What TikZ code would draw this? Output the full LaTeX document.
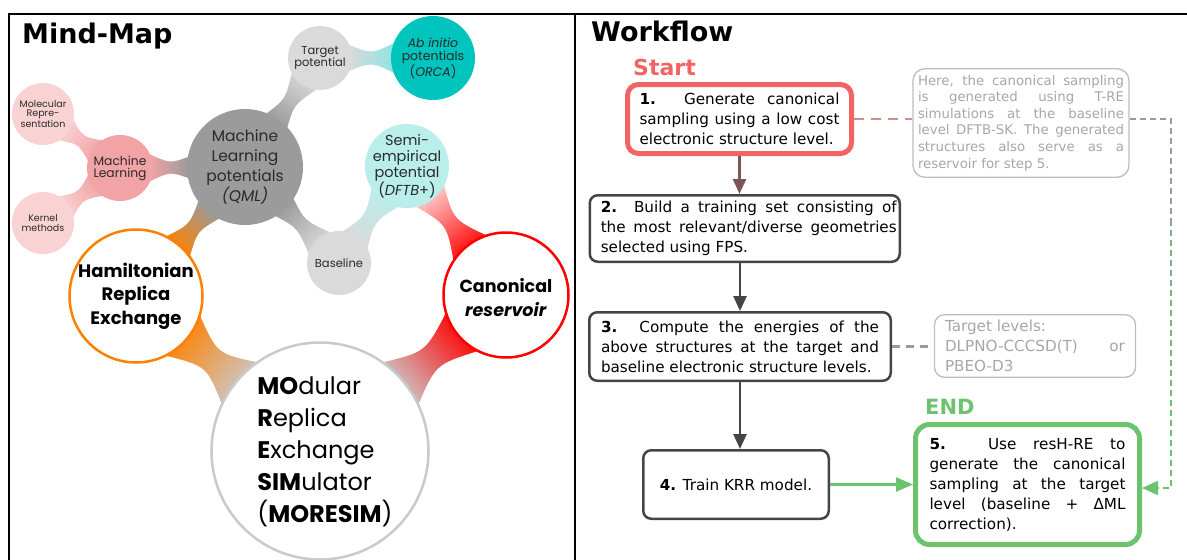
\documentclass[tikz,border=0pt]{standalone}
\usepackage{fontspec}
\setmainfont{DejaVu Sans}
\newfontfamily\mmfont{Poppins}
\usetikzlibrary{calc,arrows.meta,backgrounds}

\definecolor{cTgt}{HTML}{DADADA}
\definecolor{cAbi}{HTML}{00C4BE}
\definecolor{cMol}{HTML}{F9D3D3}
\definecolor{cML}{HTML}{F2A3A6}
\definecolor{cMLP}{HTML}{9B9B9B}
\definecolor{cSemi}{HTML}{B9EEEA}
\definecolor{cHam}{HTML}{FF8000}
\definecolor{cCan}{HTML}{FF0000}
\definecolor{cMor}{HTML}{CACACA}
\definecolor{cMMtext}{HTML}{2A2A2A}
\definecolor{cStart}{HTML}{F26464}
\definecolor{cArrA}{HTML}{7D5555}
\definecolor{cDark}{HTML}{454545}
\definecolor{cGreen}{HTML}{6DC26F}
\definecolor{cNoteText}{HTML}{A6A6A6}
\definecolor{cNoteBorder}{HTML}{BDBDBD}
\definecolor{cRedDash}{HTML}{D88A88}
\definecolor{cGrayDash}{HTML}{9A9A9A}

\newcommand\wfont{\fontsize{15.2}{20}\selectfont}
\newcommand\nfont{\fontsize{13.3}{16.6}\selectfont}
\newcommand\jpar[2]{\vbox{\hsize=#1\relax #2}}
\newcommand\jl[1]{\hbox to\hsize{#1}}
\newcommand\jlast[1]{\hbox to\hsize{#1\hfil}}

\newdimen\mmxa \newdimen\mmya \newdimen\mmxb \newdimen\mmyb
% #1 A, #2 B, #3 rA, #4 rB, #5 deltaA, #6 deltaB, #7 neck half width, #8 colA, #9 colB
\newcommand\mmlink[9]{%
  \pgfextractx{\mmxa}{\pgfpointanchor{#1}{center}}%
  \pgfextracty{\mmya}{\pgfpointanchor{#1}{center}}%
  \pgfextractx{\mmxb}{\pgfpointanchor{#2}{center}}%
  \pgfextracty{\mmyb}{\pgfpointanchor{#2}{center}}%
  \pgfmathsetmacro\mmang{atan2(\the\mmyb-\the\mmya,\the\mmxb-\the\mmxa)-90}%
  \coordinate (mmP) at ($(#1)!#3!(#2)$);
  \coordinate (mmQ) at ($(#2)!#4!(#1)$);
  \coordinate (mmM) at ($(mmP)!0.5!(mmQ)$);
  \shade[top color=#9, bottom color=#8, shading angle=\mmang]
    ($(#1)!#3!#5:(#2)$) .. controls ($(mmM)!#7!90:(#2)$) .. ($(#2)!#4!-#6:(#1)$)
    -- ($(#2)!#4!#6:(#1)$) .. controls ($(mmM)!#7!-90:(#2)$) .. ($(#1)!#3!-#5:(#2)$)
    -- cycle;
}

\begin{document}
\begin{tikzpicture}[x=1pt,y=-1pt,
  mmc/.style={circle,inner sep=0pt,minimum size=#1},
  mmring/.style={circle,inner sep=0pt,minimum size=#1,fill=white,line width=2.5pt},
  mmt/.style={align=center,inner sep=0pt,text=cMMtext},
  title/.style={anchor=base west,inner sep=0pt,font=\fontsize{27}{30}\selectfont\bfseries},
  wbox/.style={draw=cDark,line width=2.5pt,rounded corners=8pt,inner sep=0pt,font=\wfont},
  nbox/.style={draw=cNoteBorder,line width=1.3pt,rounded corners=12pt,inner sep=0pt,text=cNoteText},
  darrow/.style={line width=2.5pt,-{Triangle[length=15pt,width=13pt]}},
  garrow/.style={line width=2.5pt,draw=cGreen,-{Triangle[length=17pt,width=14pt]}},
]
\useasboundingbox (0,0) rectangle (1187,560);

% ---------- frame ----------
\draw[line width=2.5pt] (9,560) -- (9,14) -- (1187,14);
\draw[line width=2.5pt] (575,14) -- (575,560);

\node[title] (mmtitle) at (22,43) {Mind-Map};
\node[title] (wftitle) at (591,41) {Workflow};

% ---------- mind map circles ----------
\node[mmc=64pt,fill=cTgt] (tgt) at (320,58) {};
\node[mmc=84pt,fill=cAbi] (abi) at (433,58) {};
\node[mmc=62pt,fill=cMol] (mol) at (43,114) {};
\node[mmc=66pt,fill=cML] (ml) at (120,168) {};
\node[mmc=62pt,fill=cMol] (ker) at (43,223) {};
\node[mmc=116pt,fill=cMLP] (mlp) at (245,167) {};
\node[mmc=84pt,fill=cSemi] (semi) at (407,166) {};
\node[mmc=64pt,fill=cTgt] (base) at (339,263) {};
\node[mmring=133pt,draw=cHam] (ham) at (136,296) {};
\node[mmring=125pt,draw=cCan] (can) at (506,295) {};
\node[mmring=217pt,draw=cMor] (mor) at (320,451) {};

\begin{pgfonlayer}{background}
\mmlink{tgt}{abi}{31pt}{41pt}{26}{22}{4pt}{cTgt}{cAbi!45!white}
\mmlink{mlp}{tgt}{57pt}{31pt}{13}{30}{5pt}{cMLP}{cTgt}
\mmlink{mlp}{ml}{57pt}{32pt}{11}{26}{4pt}{cMLP}{cML}
\mmlink{ml}{mol}{32pt}{30pt}{24}{26}{4pt}{cML}{cMol}
\mmlink{ml}{ker}{32pt}{30pt}{24}{26}{4pt}{cML}{cMol}
\mmlink{mlp}{base}{57pt}{31pt}{13}{30}{5pt}{cMLP}{cTgt}
\mmlink{base}{semi}{31pt}{41pt}{30}{24}{5pt}{cTgt}{cSemi}
\mmlink{semi}{can}{41pt}{62pt}{26}{20}{4pt}{cCan!20!white}{cCan}
\mmlink{mlp}{ham}{57pt}{66pt}{14}{14}{5pt}{cMLP}{cHam}
\mmlink{ham}{mor}{66pt}{108pt}{24}{15}{8pt}{cHam}{cMor}
\mmlink{can}{mor}{62pt}{108pt}{24}{15}{8pt}{cCan}{cMor}
\end{pgfonlayer}

% ---------- mind map texts ----------
\node[mmt,font=\mmfont\fontsize{11.5}{11.5}\selectfont] (tgtT) at (tgt) {Target\\potential};
\node[mmt,font=\mmfont\fontsize{12.5}{13}\selectfont] (abiT) at (abi) {\textit{Ab initio}\\potentials\\(\textit{ORCA})};
\node[mmt,font=\mmfont\fontsize{9.5}{9.2}\selectfont] (molT) at (mol) {Molecular\\Repre-\\sentation};
\node[mmt,font=\mmfont\fontsize{12.3}{12}\selectfont] (mlT) at (ml) {Machine\\Learning};
\node[mmt,font=\mmfont\fontsize{9.5}{9.5}\selectfont] (kerT) at (ker) {Kernel\\methods};
\node[mmt,font=\mmfont\fontsize{15.5}{20}\selectfont] (mlpT) at (mlp) {Machine\\Learning\\potentials\\\textit{(QML)}};
\node[mmt,font=\mmfont\fontsize{14.5}{16}\selectfont] (semiT) at (semi) {Semi-\\empirical\\potential\\(\textit{DFTB}+)};
\node[mmt,font=\mmfont\fontsize{11.5}{11.5}\selectfont] (baseT) at (base) {Baseline};
\node[mmt,font=\mmfont\bfseries\fontsize{18}{23.5}\selectfont,text=black] (hamT) at (ham) {Hamiltonian\\Replica\\Exchange};
\node[mmt,font=\mmfont\bfseries\fontsize{17.5}{24}\selectfont,text=black] (canT) at (506,298) {Canonical\\\textit{reservoir}};
\node[mmt,align=left,font=\mmfont\fontsize{24}{32}\selectfont,text=black] (morT) at (325,452) {\textbf{MO}dular\\\textbf{R}eplica\\\textbf{E}xchange\\\textbf{SIM}ulator\\(\textbf{MORESIM})};

% ---------- workflow ----------
\node[anchor=base west,inner sep=0pt,text=cStart,font=\fontsize{22}{22}\selectfont\bfseries] (start) at (633,75) {Start};
\node[anchor=base west,inner sep=0pt,text=cGreen,font=\fontsize{21}{21}\selectfont\bfseries] (endl) at (925,414) {END};

\node[wbox,draw=cStart,line width=5pt,rounded corners=11pt,minimum width=224pt,minimum height=69pt] (b1) at (739.5,119)
  {\jpar{200pt}{\jl{\textbf{1.} Generate canonical}\jl{sampling using a low cost}\jlast{electronic structure level.}}};
\node[wbox,minimum width=310pt,minimum height=66.5pt] (b2) at (744.75,228.5)
  {\hspace*{8pt}\jpar{296pt}{\jl{\textbf{2.} Build a training set consisting of}\jl{the most relevant/diverse geometries}\jlast{selected using FPS.}}};
\node[wbox,minimum width=301.5pt,minimum height=68.5pt] (b3) at (740,346.5)
  {\jpar{278pt}{\jl{\textbf{3.} Compute the energies of the}\jl{above structures at the target and}\jlast{baseline electronic structure levels.}}};
\node[wbox,minimum width=185.5pt,minimum height=68.5pt] (b4) at (736,484.5)
  {\textbf{4.} Train KRR model.};
\node[wbox,draw=cGreen,line width=5pt,rounded corners=14pt,minimum width=224pt,minimum height=120pt] (b5) at (1027.5,484.5)
  {\jpar{196pt}{\jl{\textbf{5.} Use resH-RE to}\jl{generate the canonical}\jl{sampling at the target}\jl{level (baseline + ΔML}\jlast{correction).}}};

\node[nbox,minimum width=216pt,minimum height=108.5pt,font=\nfont] (note) at (1021,123)
  {\jpar{206pt}{\jl{Here, the canonical sampling}\jl{is generated using T-RE}\jl{simulations at the baseline}\jl{level DFTB-SK. The generated}\jl{structures also serve as a}\jlast{reservoir for step 5.}}};
\node[nbox,rounded corners=10pt,minimum width=201pt,minimum height=62.5pt,font=\wfont] (tl) at (1035,346)
  {\jpar{180pt}{\jlast{Target levels:}\jl{DLPNO-CCCSD(T) or}\jlast{PBEO-D3}}};

% arrows
\draw[darrow,draw=cArrA] (b1.south) -- (b1.south |- b2.north);
\draw[darrow,draw=cDark] (b3.north |- b2.south) -- (b3.north);
\draw[darrow,draw=cDark] (b3.south) -- (b3.south |- b4.north);
\draw[garrow] (b4.east) -- (b5.west |- b4.east);

% dashed connectors
\draw[cRedDash,line width=2.5pt,dash pattern=on 10pt off 7pt] (b1.east) -- (b1.east -| note.west);
\draw[cGrayDash,line width=2.5pt,dash pattern=on 8pt off 6pt] (b3.east) -- (b3.east -| tl.west);

\coordinate (k1) at (1171,119);
\coordinate (ka) at (1171,220);
\coordinate (kb) at (1171,300);
\coordinate (kc) at (1171,380);
\coordinate (k2) at (1171,488);
\draw[cGrayDash,line width=2pt,dash pattern=on 6pt off 4pt] (b1.east -| note.east) -- (k1) -- (ka);
\draw[cGrayDash!65!cGreen,line width=2pt,dash pattern=on 6pt off 4pt] (ka) -- (kb);
\draw[cGrayDash!30!cGreen,line width=2pt,dash pattern=on 6pt off 4pt] (kb) -- (kc);
\draw[cGreen,line width=2pt,dash pattern=on 6pt off 4pt,-{Triangle[length=16pt,width=14pt]}] (kc) -- (k2) -- (b5.east |- k2);
\end{tikzpicture}
\end{document}
